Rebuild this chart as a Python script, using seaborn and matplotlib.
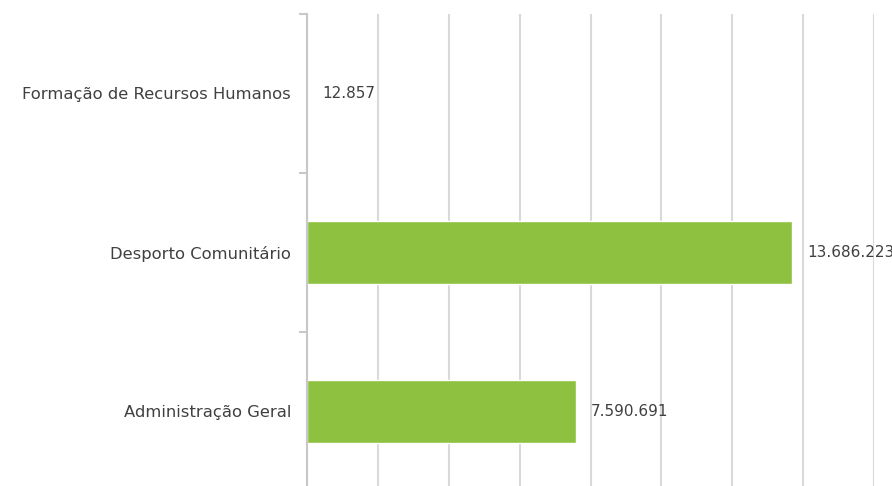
import matplotlib
matplotlib.use("Agg")
import matplotlib.pyplot as plt
import seaborn as sns
import pandas as pd
import numpy as np

categories = ["Formação de Recursos Humanos", "Desporto Comunitário", "Administração Geral"]
values = [12857, 13686223, 7590691]
value_labels = ["12.857", "13.686.223", "7.590.691"]

sns.set_theme(style="white")
plt.rcParams['font.family'] = ['DejaVu Sans']

df = pd.DataFrame({"cat": categories, "val": values})

fig = plt.figure(figsize=(8.92, 4.86), dpi=100)
W, H = 892, 486
left, right, top, bottom = 307, 874, 14, 491
ax = fig.add_axes([left / W, 1 - bottom / H, (right - left) / W, (bottom - top) / H])

sns.barplot(data=df, x="val", y="cat", ax=ax, color="#8DC13F", saturation=1,
            width=0.39, orient="h")

ax.set_xlim(0, 16_000_000)
ax.set_ylim(2.5, -0.5)
ax.set_xticks(np.arange(0, 16_000_001, 2_000_000))
ax.set_xticklabels([])
ax.tick_params(axis="x", length=0)
ax.grid(axis="x", color="#D9D9D9", linewidth=1.5)
ax.set_axisbelow(True)
ax.set_xlabel("")
ax.set_ylabel("")

for s in ["top", "right", "bottom"]:
    ax.spines[s].set_visible(False)
ax.spines["left"].set_color("#C8C8C8")
ax.spines["left"].set_linewidth(1.5)

ax.set_yticks([0, 1, 2])
ax.set_yticklabels(categories, color="#404040", fontsize=11.8)
ax.tick_params(axis="y", which="major", length=0, pad=11.5)
ax.set_yticks([-0.5, 0.5, 1.5, 2.5], minor=True)
ax.tick_params(axis="y", which="minor", length=6, width=1.5, color="#C8C8C8", left=True)

for i, (v, lab) in enumerate(zip(values, value_labels)):
    ax.annotate(lab, xy=(v, i), xytext=(15, 0), textcoords="offset pixels",
                va="center", ha="left", fontsize=11, color="#404040")

fig.savefig("out.png", dpi=100)
